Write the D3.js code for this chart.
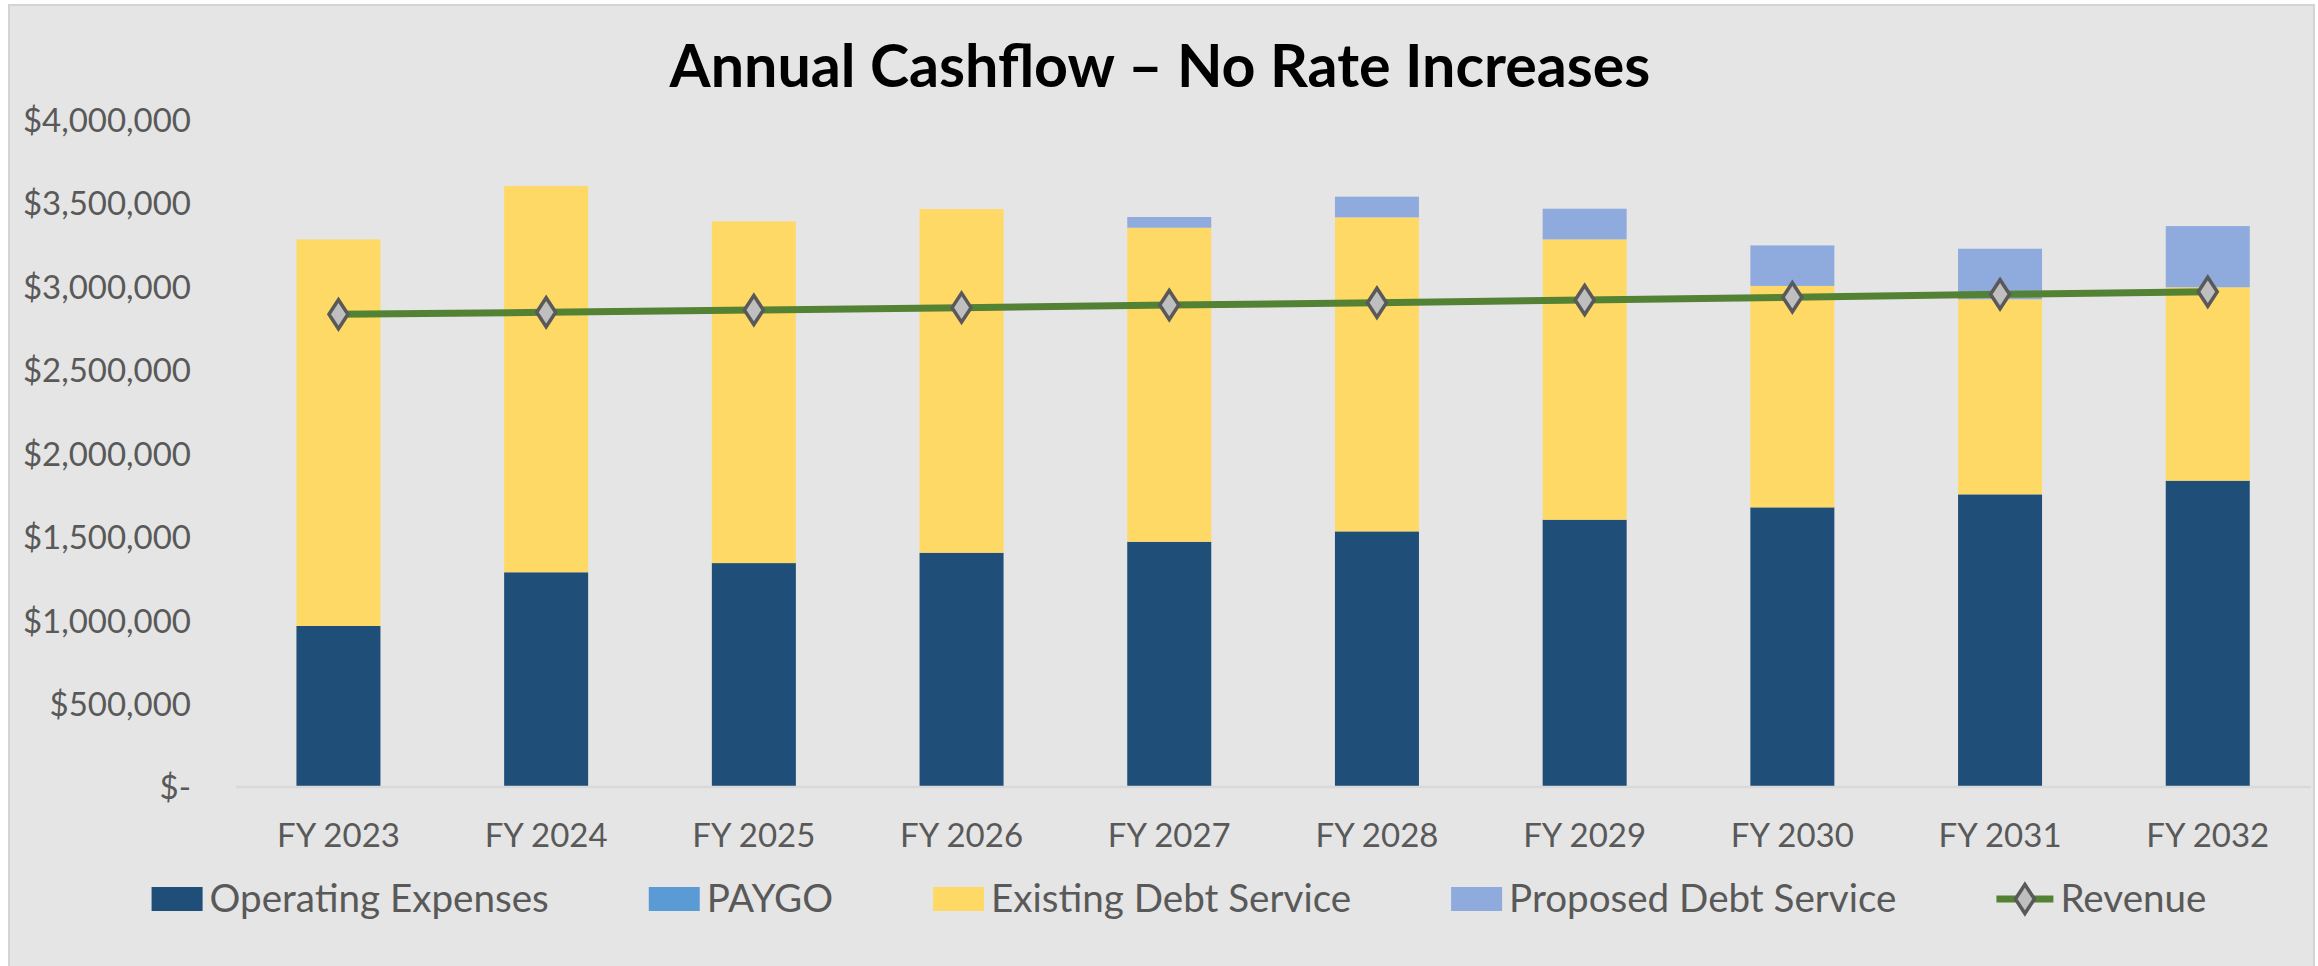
<!DOCTYPE html>
<html><head><meta charset="utf-8">
<script src="https://cdn.jsdelivr.net/npm/d3@7"></script>
<style>body{margin:0;background:#fff}svg{display:block}</style>
</head><body><svg id="c" width="2318" height="966"></svg>
<script>
const title = "Annual Cashflow \u2013 No Rate Increases";
const categories = ["FY 2023","FY 2024","FY 2025","FY 2026","FY 2027","FY 2028","FY 2029","FY 2030","FY 2031","FY 2032"];
const operatingExpenses   = [965000,1287000,1342000,1404000,1470000,1532000,1602000,1676000,1754000,1836000];
const paygo               = [0,0,0,0,0,0,0,0,0,0];
const existingDebtService = [2317000,2315000,2048000,2060000,1882000,1882000,1680000,1327000,1169000,1159000];
const proposedDebtService = [0,0,0,0,64000,124000,184000,243000,303000,367000];
const revenue             = [2833000,2845000,2859000,2873000,2889000,2902000,2919000,2935000,2953000,2968000];
const yTicks = [0,500000,1000000,1500000,2000000,2500000,3000000,3500000,4000000];
const seriesNames = ["Operating Expenses","PAYGO","Existing Debt Service","Proposed Debt Service","Revenue"];

const colors = {"Operating Expenses":"#1F4E79","PAYGO":"#5B9BD5","Existing Debt Service":"#FFD966","Proposed Debt Service":"#8FAADC","Revenue":"#548235"};
const textColor = "#595959";
const font = "Lato, 'Open Sans', sans-serif";

const svg = d3.select("#c");
// chart frame
svg.append("rect").attr("x",9).attr("y",5).attr("width",2305).attr("height",962)
  .attr("fill","#E5E5E5").attr("stroke","#D4D4D4").attr("stroke-width",2);

const x = d3.scaleBand().domain(categories).range([234.6, 2311.6]).paddingInner(0.596).paddingOuter(0.298);
const y = d3.scaleLinear().domain([0,4000000]).range([787,119.6]);

// title
const t = svg.append("text").attr("x",1160).attr("y",87).attr("text-anchor","middle")
  .attr("font-family",font).attr("font-weight",700).attr("font-size",50).attr("fill","#000").text(title);
{ const w = t.node().getComputedTextLength(); t.attr("font-size", 50*981/w); }

// y axis labels
const fmt = d3.format("$,");
const yAxis = d3.axisLeft(y).tickValues(yTicks).tickSize(0).tickPadding(0)
  .tickFormat(v => v===0 ? "$-" : fmt(v));
const yg = svg.append("g").attr("transform","translate(191,0)").call(yAxis);
yg.select(".domain").remove();
yg.selectAll("text").attr("font-family",font).attr("font-size",33).attr("fill",textColor).attr("dy","0.36em");

// stacked bars
const rows = categories.map((c,i)=>({cat:c,"Operating Expenses":operatingExpenses[i],"PAYGO":paygo[i],"Existing Debt Service":existingDebtService[i],"Proposed Debt Service":proposedDebtService[i]}));
const keys = seriesNames.slice(0,4);
const stacked = d3.stack().keys(keys)(rows);
const barW = 84;
svg.append("g").selectAll("g").data(stacked).join("g").attr("fill",d=>colors[d.key])
  .selectAll("rect").data(d=>d).join("rect")
  .attr("x",d=>x(d.data.cat)+x.bandwidth()/2-barW/2).attr("width",barW)
  .attr("y",d=>y(d[1])).attr("height",d=>Math.max(0,y(d[0])-y(d[1])));

// x axis
const xAxis = d3.axisBottom(x).tickSize(0).tickPadding(0);
const xg = svg.append("g").attr("transform","translate(0,787)").call(xAxis);
xg.select(".domain").attr("stroke","#D9D9D9").attr("stroke-width",2.5).attr("d","M236,0H2311");
xg.selectAll("text").attr("font-family",font).attr("font-size",33).attr("fill",textColor).attr("dy",null).attr("y",60);

// revenue line
const cx = c => x(c)+x.bandwidth()/2;
const line = d3.line().x((d,i)=>cx(categories[i])).y(d=>y(d));
svg.append("path").datum(revenue).attr("d",line).attr("fill","none").attr("stroke",colors["Revenue"]).attr("stroke-width",7);
const diamond = "M0,-14.5L9.5,0L0,14.5L-9.5,0Z";
svg.append("g").selectAll("path").data(revenue).join("path")
  .attr("transform",(d,i)=>`translate(${cx(categories[i])},${y(d)})`)
  .attr("d",diamond).attr("fill","#BFBFBF").attr("stroke","#595959").attr("stroke-width",3.5);

// legend
const lg = svg.append("g");
const swW = 51, swH = 24, gapT = 7, gapItem = 100, legBase = 912;
let items = seriesNames.map(n=>{
  const tx = lg.append("text").attr("font-family",font).attr("font-size",38.6).attr("fill",textColor).attr("y",legBase).text(n);
  return {n, tx, w: tx.node().getComputedTextLength()};
});
const revSymW = 57;
let total = 0;
items.forEach((it,i)=>{ total += (it.n==="Revenue"?revSymW:swW) + gapT + it.w + (i<items.length-1?gapItem:0); });
let cur = 1179 - total/2;
items.forEach(it=>{
  if (it.n==="Revenue") {
    lg.append("line").attr("x1",cur).attr("x2",cur+revSymW).attr("y1",899).attr("y2",899)
      .attr("stroke",colors.Revenue).attr("stroke-width",7);
    lg.append("path").attr("transform",`translate(${cur+revSymW/2},899)`).attr("d",diamond)
      .attr("fill","#BFBFBF").attr("stroke","#595959").attr("stroke-width",3.5);
    cur += revSymW + gapT;
  } else {
    lg.append("rect").attr("x",cur).attr("y",887).attr("width",swW).attr("height",swH).attr("fill",colors[it.n]);
    cur += swW + gapT;
  }
  it.tx.attr("x",cur);
  cur += it.w + gapItem;
});
</script></body></html>
